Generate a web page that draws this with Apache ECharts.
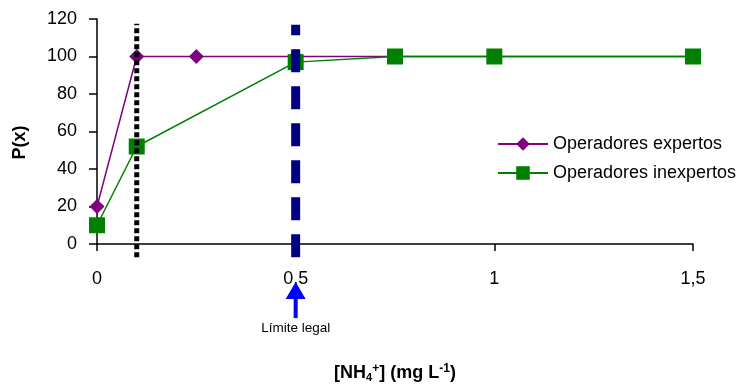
<!DOCTYPE html>
<html>
<head>
<meta charset="utf-8">
<script src="https://cdn.jsdelivr.net/npm/echarts@6/dist/echarts.min.js"></script>
<style>html,body{margin:0;padding:0;background:#fff}#c{width:743px;height:388px}</style>
</head>
<body>
<div id="c"></div>
<script>
const expertX = [0, 0.1, 0.25, 0.5, 0.75, 1, 1.5];
const expertY = [20, 100, 100, 100, 100, 100, 100];
const inexpertX = [0, 0.1, 0.5, 0.75, 1, 1.5];
const inexpertY = [10, 52, 97, 100, 100, 100];
const xTicks = [0, 0.5, 1, 1.5];
const yTicks = [0, 20, 40, 60, 80, 100, 120];
const detectLimitX = 0.1;
const legalLimitX = 0.5;

const font = '"Liberation Sans", Arial, sans-serif';
const chart = echarts.init(document.getElementById('c'));
chart.setOption({
  animation: false,
  textStyle: { fontFamily: font },
  grid: { left: 97, right: 50, top: 19, bottom: 144, containLabel: false },
  legend: {
    orient: 'vertical', left: 492, top: 130,
    itemWidth: 50, itemHeight: 17, itemGap: 11,
    textStyle: { fontSize: 18, color: '#000', fontFamily: font },
    data: ['Operadores expertos', 'Operadores inexpertos']
  },
  xAxis: {
    type: 'value', min: 0, max: 1.5, interval: 0.5,
    axisLine: { lineStyle: { color: '#000', width: 1.5 } },
    axisTick: { show: true, length: 7, lineStyle: { color: '#000', width: 1.5 } },
    splitLine: { show: false },
    axisLabel: { fontSize: 18, color: '#000', margin: 26,
      formatter: v => String(v).replace('.', ',') },
    name: '{n|[NH}{sub|4}{sup|+}{n|] (mg L}{sup|-1}{n|)}',
    nameLocation: 'middle', nameGap: 119,
    nameTextStyle: {
      rich: {
        n: { fontSize: 18, fontWeight: 'bold', color: '#000', fontFamily: font },
        sub: { fontSize: 11, fontWeight: 'bold', color: '#000', fontFamily: font, verticalAlign: 'bottom', padding: [6,0,0,0] },
        sup: { fontSize: 12, fontWeight: 'bold', color: '#000', fontFamily: font, verticalAlign: 'top', padding: [0,0,8,0] }
      }
    }
  },
  yAxis: {
    type: 'value', min: 0, max: 120, interval: 20,
    axisLine: { show: true, lineStyle: { color: '#000', width: 1.5 } },
    axisTick: { show: true, length: 8, lineStyle: { color: '#000', width: 1.5 } },
    splitLine: { show: false },
    axisLabel: { fontSize: 18, color: '#000', margin: 20 },
    name: 'P(x)', nameLocation: 'middle', nameGap: 68,
    nameTextStyle: { fontSize: 18, fontWeight: 'bold', color: '#000', padding: [0, 22, 0, 0] }
  },
  series: [
    {
      name: 'Operadores expertos', type: 'line',
      data: expertX.map((x, i) => [x, expertY[i]]),
      symbol: 'diamond', symbolSize: 15,
      itemStyle: { color: '#800080' },
      lineStyle: { color: '#800080', width: 1.5 },
      z: 2
    },
    {
      name: 'Operadores inexpertos', type: 'line',
      data: inexpertX.map((x, i) => [x, inexpertY[i]]),
      symbol: 'rect', symbolSize: 16,
      itemStyle: { color: '#008000' },
      lineStyle: { color: '#008000', width: 1.5 },
      z: 3
    }
  ]
});

// reference lines placed through the chart's own scales
const px = (x, y) => chart.convertToPixel({ gridIndex: 0 }, [x, y]);
const d0 = px(detectLimitX, -7), d1 = px(detectLimitX, 117.5);
const l0 = px(legalLimitX, -7), l1 = px(legalLimitX, 117);
const a0 = px(legalLimitX, -39.5), aTip = px(legalLimitX, -20.3), aBase = px(legalLimitX, -28.8);
chart.setOption({
  graphic: [
    { type: 'line', z: 100, silent: true,
      shape: { x1: d0[0], y1: d0[1], x2: d1[0], y2: d1[1] },
      style: { stroke: '#000', lineWidth: 5, lineDash: [5, 3] } },
    { type: 'line', z: 100, silent: true,
      shape: { x1: l0[0], y1: l0[1], x2: l1[0], y2: l1[1] },
      style: { stroke: '#000080', lineWidth: 9, lineDash: [23, 14] } },
    { type: 'line', z: 100, silent: true,
      shape: { x1: a0[0], y1: a0[1], x2: aBase[0], y2: aBase[1] },
      style: { stroke: '#0000ff', lineWidth: 4 } },
    { type: 'polygon', z: 100, silent: true,
      shape: { points: [[aTip[0], aTip[1]], [aBase[0] - 10, aBase[1] + 1], [aBase[0] + 10, aBase[1] + 1]] },
      style: { fill: '#0000ff' } },
    { type: 'text', z: 100, silent: true, x: a0[0], y: a0[1] + 3,
      style: { text: 'Límite legal', fontSize: 13.5, fontFamily: font, fill: '#000', align: 'center', verticalAlign: 'top' } }
  ]
});
</script>
</body>
</html>
